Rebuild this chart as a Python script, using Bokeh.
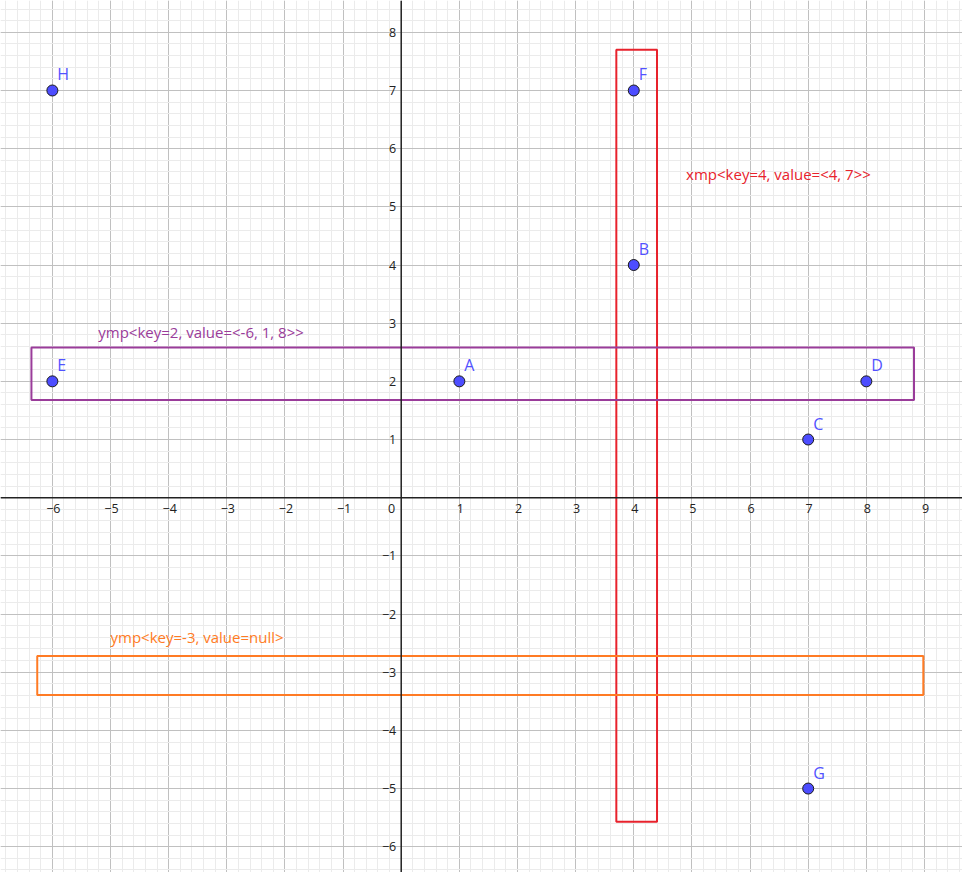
from bokeh.plotting import figure
from bokeh.models import Span, SingleIntervalTicker, ColumnDataSource, Range1d
from bokeh.core.properties import value
from bokeh.embed import file_html
from bokeh.resources import INLINE

# points
pt_names = ["A", "B", "C", "D", "E", "F", "G", "H"]
pt_x = [1, 4, 7, 8, -6, 4, 7, -6]
pt_y = [2, 4, 1, 2, 2, 7, -5, 7]

# highlight boxes (left, right, bottom, top)
box_left = [3.7, -6.36, -6.26]
box_right = [4.4, 8.82, 8.98]
box_bottom = [-5.57, 1.68, -3.39]
box_top = [7.70, 2.58, -2.72]
box_colors = ["#e8222c", "#9a3c9a", "#ff7b24"]

# box captions
cap_text = ["xmp<key=4, value=<4, 7>>", "ymp<key=2, value=<-6, 1, 8>>", "ymp<key=-3, value=null>"]
cap_x = [4.90, -5.21, -5.0]
cap_y = [5.57, 2.84, -2.39]

# axis tick labels
x_ticks = [-6, -5, -4, -3, -2, -1, 1, 2, 3, 4, 5, 6, 7, 8, 9]
y_ticks = [-6, -5, -4, -3, -2, -1, 1, 2, 3, 4, 5, 6, 7, 8]


def fmt(v):
    return ("\u2212" + str(-v)) if v < 0 else str(v)


FONT = value("Open Sans")

p = figure(width=962, height=872, output_backend="svg", toolbar_location=None,
           x_range=Range1d(-6.892, 9.654), y_range=Range1d(-6.443, 8.547),
           min_border=0, min_border_left=0, min_border_right=0,
           min_border_top=0, min_border_bottom=0)
p.outline_line_color = None
p.axis.visible = False
p.background_fill_color = "white"

for g in (p.xgrid, p.ygrid):
    g.ticker = SingleIntervalTicker(interval=1, num_minor_ticks=5)
    g.grid_line_color = "#c0c0c0"
    g.grid_line_width = 1
    g.minor_grid_line_color = "#ebebeb"
    g.minor_grid_line_width = 1

p.add_layout(Span(location=0, dimension="width", line_color="#222222", line_width=1.5))
p.add_layout(Span(location=0, dimension="height", line_color="#222222", line_width=1.5))

# tick labels
p.text(x=x_ticks, y=[0] * len(x_ticks), text=[fmt(v) for v in x_ticks],
       text_align="center", text_baseline="middle", y_offset=11, x_offset=1,
       text_font=FONT, text_font_size="12.5px", text_color="#222222")
p.text(x=[0] * len(y_ticks), y=y_ticks, text=[fmt(v) for v in y_ticks],
       text_align="right", text_baseline="middle", x_offset=-5,
       text_font=FONT, text_font_size="12.5px", text_color="#222222")
p.text(x=[0], y=[0], text=["0"], text_align="right", text_baseline="middle",
       x_offset=-6, y_offset=11, text_font=FONT, text_font_size="12.5px",
       text_color="#222222")

# boxes
p.quad(left=box_left, right=box_right, bottom=box_bottom, top=box_top,
       fill_color=None, line_color=box_colors, line_width=2)

# captions
p.text(x=cap_x, y=cap_y, text=cap_text, text_color=box_colors,
       text_align="left", text_baseline="middle", text_font=FONT,
       text_font_size="15px")

# points
src = ColumnDataSource(dict(x=pt_x, y=pt_y, name=pt_names))
p.scatter("x", "y", source=src, size=11, fill_color="#4d4dff",
          line_color="#1a1a1a", line_width=1)
p.text("x", "y", text="name", source=src, text_color="#5252ff",
       text_align="left", text_baseline="middle", x_offset=5, y_offset=-16,
       text_font=FONT, text_font_size="16px")

open("out.html", "w").write(file_html(p, INLINE))
